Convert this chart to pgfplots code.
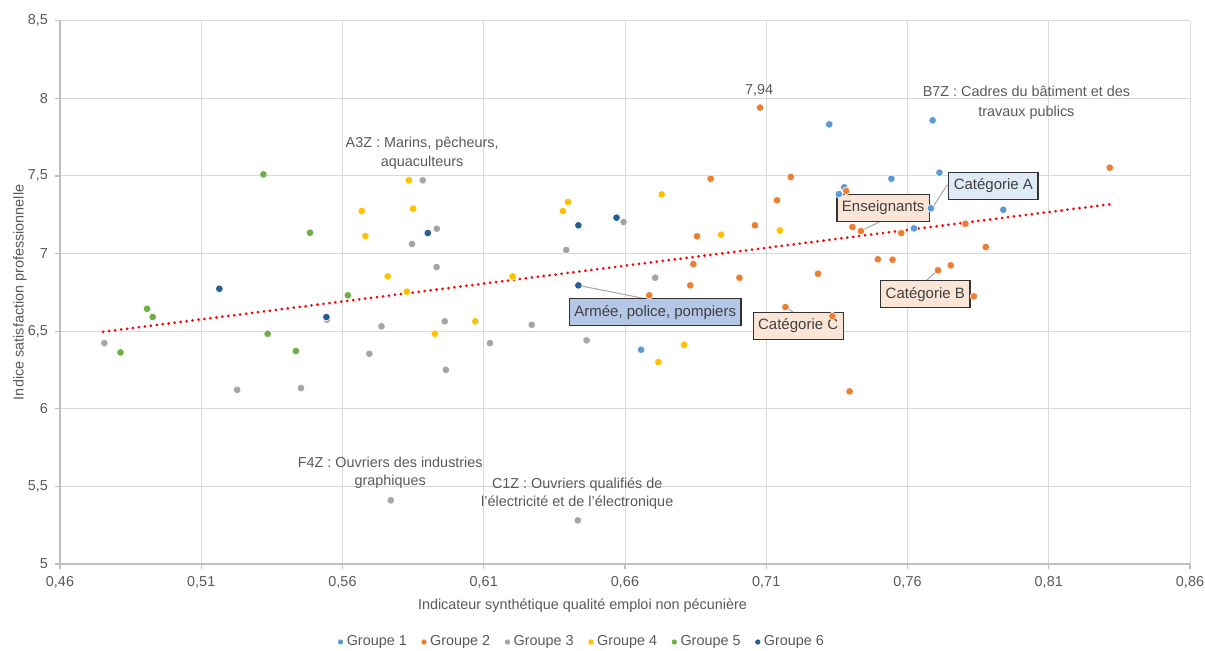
\documentclass[border=0pt]{standalone}
\usepackage{pgfplots}
\pgfplotsset{compat=1.18}
\usepackage{fontspec}
\setmainfont{Liberation Sans}
\definecolor{gA}{HTML}{5B9BD5}
\definecolor{gB}{HTML}{ED7D31}
\definecolor{gC}{HTML}{A5A5A5}
\definecolor{gD}{HTML}{FFC000}
\definecolor{gE}{HTML}{70AD47}
\definecolor{gF}{HTML}{255E91}
\definecolor{txt}{HTML}{595959}
\definecolor{gridc}{HTML}{D9D9D9}
\definecolor{axc}{HTML}{BFBFBF}
\definecolor{boxblue}{HTML}{DEEBF7}
\definecolor{boxblue2}{HTML}{B4C7E7}
\definecolor{boxpeach}{HTML}{FBE5D6}
\definecolor{leadc}{HTML}{A6A6A6}
\begin{document}
\begin{tikzpicture}[font=\fontsize{7.2}{8.6}\selectfont]
\path[use as bounding box] (-30pt,-43.5pt) rectangle (572.5pt,282pt);
\begin{axis}[
  scale only axis, width=565pt, height=271.65pt,
  at={(0,0)}, anchor=south west,
  xmin=0.46, xmax=0.86, ymin=5, ymax=8.5,
  xtick={0.46,0.51,0.56,0.61,0.66,0.71,0.76,0.81,0.86},
  ytick={5,5.5,6,6.5,7,7.5,8,8.5},
  /pgf/number format/assume math mode=true,
  xticklabel={\pgfmathprintnumber[fixed,fixed zerofill,precision=2,use comma,assume math mode=true]{\tick}},
  yticklabel={\pgfmathprintnumber[fixed,precision=1,use comma,assume math mode=true]{\tick}},
  ticklabel style={text=txt, font=\fontsize{7.2}{8.6}\selectfont},
  grid=major, major grid style={gridc, line width=0.5pt},
  axis lines*=left, axis line style={axc, line width=0.6pt, -},
  tick align=outside, major tick length=2.5pt, tick style={axc, line width=0.6pt},
  xlabel={Indicateur synthétique qualité emploi non pécunière},
  ylabel={Indice satisfaction professionnelle},
  label style={text=txt, font=\fontsize{7.2}{8.6}\selectfont},
  xlabel style={at={(axis description cs:0.4624,-0.0773)}, anchor=center},
  ylabel style={at={(axis description cs:-0.0354,0.5)}, anchor=center, rotate=0},
  legend style={at={(0.4630,-0.1436)}, anchor=center, draw=none, fill=none,
    legend columns=6, font=\fontsize{7.2}{8.6}\selectfont, text=txt,
    /tikz/every even column/.append style={column sep=5.5pt}},
  legend image code/.code={\draw[#1, mark size=1.1pt, mark options={draw=none}] plot coordinates {(0pt,0pt)};},
  every axis plot/.append style={only marks, mark=*, mark size=1.9pt},
  clip=false,
]
% Groupe 1
\addplot[gA, mark options={fill=gA, draw=white, line width=0.3pt}] coordinates {
(0.6657,6.380) (0.7323,7.832) (0.7689,7.858) (0.7713,7.521) (0.7543,7.482)
(0.7376,7.427) (0.7357,7.383) (0.7683,7.291) (0.7623,7.162) (0.7939,7.282)};
\addlegendentry{Groupe 1}
% Groupe 2
\addplot[gB, mark options={fill=gB, draw=white, line width=0.3pt}] coordinates {
(0.6903,7.482) (0.7187,7.493) (0.7138,7.343) (0.7383,7.403) (0.7060,7.182)
(0.6855,7.111) (0.7405,7.171) (0.7435,7.145) (0.7495,6.963) (0.6842,6.932)
(0.7005,6.844) (0.7283,6.870) (0.6831,6.795) (0.6686,6.731) (0.7168,6.655)
(0.7334,6.597) (0.7395,6.112) (0.7078,7.940) (0.7578,7.132) (0.7805,7.192)
(0.7877,7.042) (0.7547,6.960) (0.7708,6.892) (0.7753,6.924) (0.7835,6.724)
(0.8316,7.553)};
\addlegendentry{Groupe 2}
% Groupe 3
\addplot[gC, mark options={fill=gC, draw=white, line width=0.3pt}] coordinates {
(0.4757,6.423) (0.5227,6.122) (0.5453,6.133) (0.5545,6.574) (0.5884,7.472)
(0.5934,7.160) (0.5846,7.061) (0.5933,6.913) (0.5738,6.531) (0.5962,6.563)
(0.6270,6.541) (0.5695,6.354) (0.6122,6.423) (0.6464,6.441) (0.5966,6.251)
(0.6595,7.203) (0.6392,7.023) (0.6707,6.844) (0.5771,5.410) (0.6433,5.281)};
\addlegendentry{Groupe 3}
% Groupe 4
\addplot[gD, mark options={fill=gD, draw=white, line width=0.3pt}] coordinates {
(0.5835,7.472) (0.5668,7.274) (0.5850,7.289) (0.5681,7.113) (0.5760,6.853)
(0.6202,6.853) (0.5828,6.754) (0.6070,6.563) (0.5927,6.483) (0.6398,7.332)
(0.6380,7.274) (0.6730,7.381) (0.6940,7.121) (0.7148,7.149) (0.6809,6.412)
(0.6718,6.301)};
\addlegendentry{Groupe 4}
% Groupe 5
\addplot[gE, mark options={fill=gE, draw=white, line width=0.3pt}] coordinates {
(0.5320,7.510) (0.5485,7.134) (0.4908,6.644) (0.4928,6.591) (0.4814,6.363)
(0.5619,6.731) (0.5335,6.483) (0.5435,6.372)};
\addlegendentry{Groupe 5}
% Groupe 6
\addplot[gF, mark options={fill=gF, draw=white, line width=0.3pt}] coordinates {
(0.5164,6.773) (0.5543,6.591) (0.5902,7.132) (0.6435,7.182) (0.6570,7.231)
(0.6435,6.795)};
\addlegendentry{Groupe 6}
% trend line
\addplot[forget plot, no marks, sharp plot, red, line width=1.5pt, line cap=round,
  dash pattern=on 0pt off 3pt] coordinates {(0.4753,6.496) (0.8316,7.317)};
% leader lines
\draw[leadc, line width=0.5pt] (axis cs:0.7690,7.300) -- (axis cs:0.7740,7.441) -- (axis cs:0.7754,7.441);
\draw[leadc, line width=0.5pt] (axis cs:0.7438,7.148) -- (axis cs:0.7515,7.216);
\draw[leadc, line width=0.5pt] (axis cs:0.6440,6.793) -- (axis cs:0.6666,6.711);
\draw[leadc, line width=0.5pt] (axis cs:0.7172,6.652) -- (axis cs:0.7209,6.604);
\draw[leadc, line width=0.5pt] (axis cs:0.7704,6.888) -- (axis cs:0.7665,6.823);
% text annotations
\node[text=txt, align=center] at (axis cs:0.7075,8.053) {7,94};
\node[text=txt, align=center, font=\fontsize{7.2}{10}\selectfont] at (axis cs:0.8021,7.970) {B7Z : Cadres du bâtiment et des\\travaux publics};
\node[text=txt, align=center, font=\fontsize{7.2}{9.5}\selectfont] at (axis cs:0.5882,7.648) {A3Z : Marins, pêcheurs,\\aquaculteurs};
\node[text=txt, align=center, font=\fontsize{7.2}{9}\selectfont] at (axis cs:0.5769,5.586) {F4Z : Ouvriers des industries\\graphiques};
\node[text=txt, align=center, font=\fontsize{7.2}{9}\selectfont] at (axis cs:0.6431,5.450) {C1Z : Ouvriers qualifiés de\\l'électricité et de l'électronique};
% boxed labels
\tikzset{lbl/.style={draw=black!80, line width=0.6pt, text=black!75, inner xsep=2.5pt, minimum height=11.5pt, font=\fontsize{7.5}{9}\selectfont}}
\node[lbl, fill=boxblue] at (axis cs:0.7904,7.435) {Catégorie A};
\node[lbl, fill=boxpeach] at (axis cs:0.7514,7.293) {Enseignants};
\node[lbl, fill=boxblue2] at (axis cs:0.6707,6.623) {Armée, police, pompiers};
\node[lbl, fill=boxpeach] at (axis cs:0.7213,6.533) {Catégorie C};
\node[lbl, fill=boxpeach] at (axis cs:0.7663,6.739) {Catégorie B};
\end{axis}
\end{tikzpicture}
\end{document}
